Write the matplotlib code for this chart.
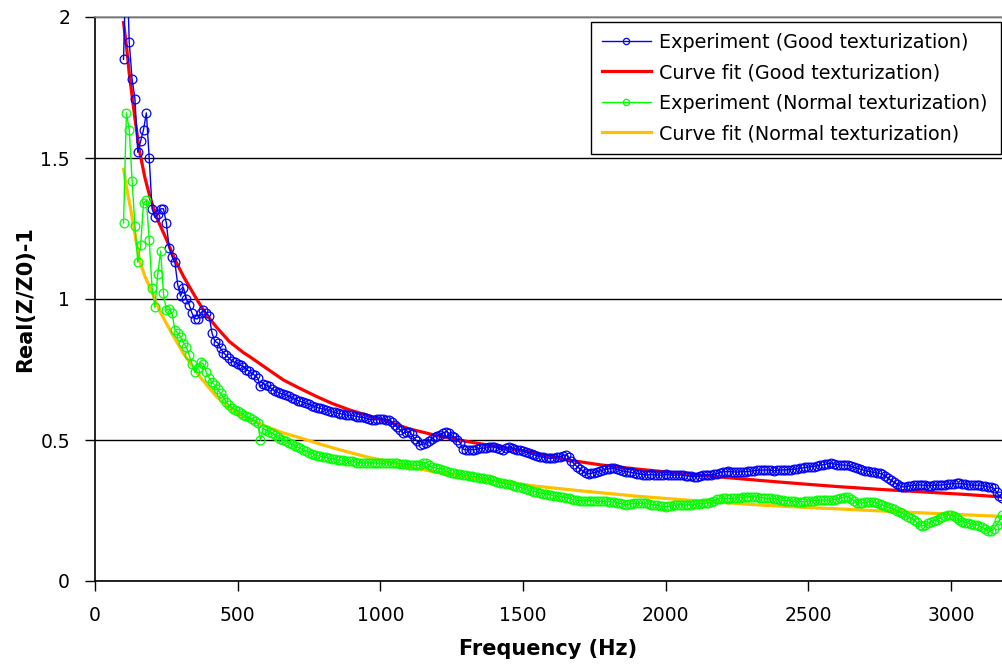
#!/usr/bin/env python3
# -*- coding: utf-8 -*-
"""Real part of normalised impedance vs frequency, two texturizations."""

from matplotlib import pyplot as plt
from matplotlib.ticker import FuncFormatter
import numpy as np

# measured points, one every 10 Hz from 100 Hz
freq = np.arange(100, 3190, 10)

good_exp = [
    1.85, 2.25, 1.91, 1.78, 1.71, 1.52, 1.56, 1.60, 1.66, 1.50,
    1.32, 1.29, 1.30, 1.32, 1.32, 1.27, 1.18, 1.15, 1.13, 1.05,
    1.01, 1.04, 1.00, 0.98, 0.95, 0.93, 0.93, 0.95, 0.96, 0.95,
    0.94, 0.88, 0.85, 0.845, 0.825, 0.81, 0.80, 0.79, 0.78, 0.775,
    0.77, 0.765, 0.76, 0.75, 0.745, 0.735, 0.73, 0.72, 0.69, 0.70,
    0.695, 0.69, 0.68, 0.675, 0.67, 0.665, 0.662, 0.66, 0.655, 0.65,
    0.645, 0.64, 0.637, 0.633, 0.63, 0.626, 0.622, 0.618, 0.615, 0.612,
    0.61, 0.607, 0.604, 0.60, 0.598, 0.595, 0.593, 0.591, 0.589, 0.588,
    0.587, 0.585, 0.583, 0.581, 0.58, 0.577, 0.574, 0.572, 0.572, 0.573,
    0.575, 0.573, 0.572, 0.571, 0.565, 0.552, 0.545, 0.535, 0.525, 0.527,
    0.53, 0.52, 0.505, 0.495, 0.483, 0.485, 0.488, 0.495, 0.505, 0.512,
    0.515, 0.518, 0.525, 0.53, 0.525, 0.515, 0.51, 0.50, 0.49, 0.468,
    0.465, 0.465, 0.466, 0.466, 0.468, 0.47, 0.471, 0.472, 0.474, 0.476,
    0.475, 0.472, 0.468, 0.465, 0.47, 0.476, 0.473, 0.468, 0.466, 0.465,
    0.462, 0.458, 0.454, 0.45, 0.447, 0.443, 0.441, 0.439, 0.437, 0.435,
    0.435, 0.437, 0.44, 0.441, 0.444, 0.447, 0.44, 0.425, 0.415, 0.405,
    0.398, 0.39, 0.383, 0.38, 0.382, 0.384, 0.387, 0.39, 0.393, 0.396,
    0.398, 0.40, 0.399, 0.396, 0.393, 0.39, 0.388, 0.387, 0.385, 0.383,
    0.381, 0.379, 0.377, 0.376, 0.377, 0.378, 0.377, 0.376, 0.375, 0.376,
    0.378, 0.377, 0.376, 0.375, 0.376, 0.376, 0.375, 0.374, 0.372, 0.371,
    0.37, 0.37, 0.372, 0.375, 0.376, 0.376, 0.377, 0.378, 0.381, 0.384,
    0.387, 0.388, 0.389, 0.388, 0.387, 0.386, 0.387, 0.388, 0.388, 0.389,
    0.39, 0.391, 0.392, 0.393, 0.393, 0.394, 0.394, 0.392, 0.391, 0.392,
    0.393, 0.394, 0.394, 0.395, 0.395, 0.396, 0.397, 0.399, 0.401, 0.403,
    0.404, 0.405, 0.406, 0.408, 0.41, 0.412, 0.414, 0.416, 0.417, 0.415,
    0.413, 0.412, 0.411, 0.411, 0.41, 0.407, 0.403, 0.40, 0.397, 0.394,
    0.391, 0.389, 0.387, 0.385, 0.383, 0.382, 0.378, 0.372, 0.364, 0.357,
    0.35, 0.344, 0.338, 0.334, 0.334, 0.336, 0.338, 0.339, 0.34, 0.341,
    0.34, 0.339, 0.338, 0.338, 0.339, 0.34, 0.34, 0.341, 0.342, 0.343,
    0.344, 0.345, 0.346, 0.346, 0.345, 0.343, 0.341, 0.34, 0.339, 0.34,
    0.34, 0.338, 0.336, 0.334, 0.332, 0.329, 0.315, 0.30, 0.293,
]

normal_exp = [
    1.27, 1.66, 1.60, 1.42, 1.26, 1.13, 1.19, 1.34, 1.35, 1.21,
    1.04, 0.97, 1.09, 1.17, 1.02, 0.96, 0.965, 0.95, 0.89, 0.88,
    0.865, 0.845, 0.83, 0.80, 0.77, 0.74, 0.755, 0.775, 0.77, 0.74,
    0.72, 0.705, 0.695, 0.68, 0.665, 0.65, 0.635, 0.624, 0.615, 0.608,
    0.603, 0.597, 0.59, 0.584, 0.58, 0.574, 0.567, 0.562, 0.50, 0.54,
    0.535, 0.53, 0.525, 0.518, 0.512, 0.505, 0.50, 0.495, 0.49, 0.485,
    0.48, 0.475, 0.47, 0.465, 0.46, 0.455, 0.452, 0.448, 0.445, 0.442,
    0.44, 0.438, 0.436, 0.434, 0.432, 0.43, 0.429, 0.428, 0.427, 0.425,
    0.424, 0.422, 0.42, 0.419, 0.418, 0.418, 0.419, 0.42, 0.418, 0.417,
    0.417, 0.417, 0.418, 0.42, 0.42, 0.419, 0.418, 0.416, 0.415, 0.414,
    0.413, 0.412, 0.41, 0.41, 0.412, 0.42, 0.418, 0.41, 0.405, 0.402,
    0.40, 0.398, 0.395, 0.39, 0.385, 0.383, 0.382, 0.38, 0.378, 0.376,
    0.375, 0.373, 0.371, 0.37, 0.368, 0.366, 0.365, 0.363, 0.36, 0.357,
    0.355, 0.352, 0.349, 0.347, 0.345, 0.343, 0.34, 0.338, 0.335, 0.332,
    0.33, 0.327, 0.323, 0.32, 0.317, 0.315, 0.312, 0.31, 0.308, 0.306,
    0.304, 0.302, 0.30, 0.299, 0.298, 0.296, 0.293, 0.29, 0.288, 0.286,
    0.285, 0.284, 0.284, 0.285, 0.285, 0.284, 0.283, 0.283, 0.282, 0.282,
    0.281, 0.281, 0.28, 0.278, 0.275, 0.272, 0.27, 0.272, 0.274, 0.275,
    0.275, 0.276, 0.275, 0.275, 0.273, 0.271, 0.27, 0.268, 0.266, 0.265,
    0.264, 0.265, 0.266, 0.268, 0.27, 0.27, 0.271, 0.27, 0.27, 0.271,
    0.272, 0.273, 0.274, 0.275, 0.276, 0.278, 0.281, 0.285, 0.29, 0.292,
    0.293, 0.293, 0.292, 0.293, 0.294, 0.295, 0.296, 0.297, 0.298, 0.299,
    0.299, 0.299, 0.298, 0.296, 0.295, 0.294, 0.293, 0.293, 0.292, 0.29,
    0.288, 0.286, 0.285, 0.284, 0.283, 0.282, 0.281, 0.281, 0.281, 0.282,
    0.283, 0.284, 0.285, 0.286, 0.287, 0.287, 0.288, 0.287, 0.287, 0.288,
    0.29, 0.293, 0.296, 0.299, 0.298, 0.292, 0.285, 0.278, 0.276, 0.277,
    0.279, 0.281, 0.281, 0.28, 0.277, 0.273, 0.269, 0.265, 0.262, 0.258,
    0.254, 0.25, 0.246, 0.24, 0.234, 0.228, 0.223, 0.218, 0.208, 0.198,
    0.195, 0.20, 0.206, 0.21, 0.214, 0.218, 0.222, 0.226, 0.23, 0.233,
    0.234, 0.23, 0.224, 0.216, 0.21, 0.207, 0.205, 0.203, 0.20, 0.199,
    0.195, 0.19, 0.184, 0.178, 0.176, 0.185, 0.20, 0.215, 0.234,
]

# curve fits
good_fit_f = [100, 110, 120, 130, 140, 155, 175, 193, 220, 251, 280, 310,
              356, 390, 426, 470, 520, 543, 600, 660, 718, 777, 830, 894,
              960, 1010, 1100, 1200, 1303, 1400, 1500, 1653, 1770, 1900,
              2050, 2200, 2350, 2471, 2600, 2750, 2900, 3050, 3180]
good_fit_v = [1.98, 1.90, 1.80, 1.72, 1.64, 1.53, 1.43, 1.36, 1.28, 1.21,
              1.14, 1.08, 1.00, 0.945, 0.90, 0.85, 0.81, 0.795, 0.755,
              0.713, 0.683, 0.654, 0.63, 0.606, 0.586, 0.571, 0.54, 0.515,
              0.495, 0.478, 0.462, 0.43, 0.412, 0.397, 0.382, 0.368, 0.355,
              0.345, 0.335, 0.325, 0.316, 0.307, 0.298]

normal_fit_f = [100, 110, 123, 135, 145, 158, 175, 193, 228, 263, 310, 368,
                426, 496, 602, 660, 718, 800, 859, 952, 1000, 1100, 1200,
                1300, 1400, 1548, 1700, 1907, 2100, 2354, 2471, 2600, 2803,
                3000, 3180]
normal_fit_v = [1.46, 1.40, 1.33, 1.26, 1.20, 1.13, 1.08, 1.04, 0.955, 0.89,
                0.807, 0.724, 0.654, 0.595, 0.547, 0.525, 0.508, 0.482,
                0.465, 0.44, 0.43, 0.405, 0.385, 0.37, 0.355, 0.336, 0.32,
                0.30, 0.285, 0.268, 0.262, 0.256, 0.246, 0.237, 0.229]


def main():
    fig = plt.figure(figsize=(10.02, 6.66), dpi=100)
    ax = fig.add_axes([95 / 1002, 85 / 666, 907 / 1002, 564 / 666])

    ax.plot(good_fit_f, good_fit_v, '-', color='#ff0000', lw=2.3,
            label='Curve fit (Good texturization)', zorder=2)
    ax.plot(normal_fit_f, normal_fit_v, '-', color='#ffc000', lw=2.3,
            label='Curve fit (Normal texturization)', zorder=2)
    ax.plot(freq, good_exp, '-o', color='#0000ff', lw=1, ms=6.3,
            mfc='none', mew=0.9, label='Experiment (Good texturization)',
            zorder=3)
    ax.plot(freq, normal_exp, '-o', color='#00ff00', lw=1, ms=6.3,
            mfc='none', mew=0.9, label='Experiment (Normal texturization)',
            zorder=3)

    ax.set_xlim(0, 3179)
    ax.set_ylim(0, 2)
    ax.set_xticks(np.arange(0, 3001, 500))
    ax.set_yticks([0, 0.5, 1, 1.5, 2])
    ax.yaxis.set_major_formatter(FuncFormatter(lambda v, p: f'{v:g}'))
    ax.tick_params(direction='out', length=7, width=1, labelsize=13.5,
                   color='black')
    ax.tick_params(axis='x', pad=11)
    ax.tick_params(axis='y', pad=11)
    ax.yaxis.grid(True, color='black', lw=1)

    for side in ('left', 'bottom'):
        ax.spines[side].set_color('black')
        ax.spines[side].set_linewidth(1.2)
    ax.spines['top'].set_color('#909090')
    ax.spines['top'].set_linewidth(1.2)
    ax.spines['right'].set_visible(False)

    ax.set_xlabel('Frequency (Hz)', fontsize=15, fontweight='bold',
                  labelpad=10)
    ax.set_ylabel('Real(Z/Z0)-1', fontsize=15, fontweight='bold',
                  labelpad=4)

    handles, labels = ax.get_legend_handles_labels()
    order = [2, 0, 3, 1]
    leg = ax.legend([handles[i] for i in order], [labels[i] for i in order],
                    loc='upper left', mode='expand',
                    bbox_to_anchor=(591 / 1002, 1 - 153 / 666,
                                    410 / 1002, 131 / 666),
                    bbox_transform=fig.transFigure, borderaxespad=0,
                    fontsize=13.8, handlelength=2.6, handletextpad=0.4,
                    labelspacing=0.6, borderpad=0.55, fancybox=False,
                    framealpha=1, numpoints=1)
    leg.get_frame().set_edgecolor('black')
    leg.get_frame().set_linewidth(1)
    for line in leg.get_lines():
        line.set_markersize(4.5)

    fig.savefig('out.png', dpi=100)


if __name__ == "__main__":
    main()
